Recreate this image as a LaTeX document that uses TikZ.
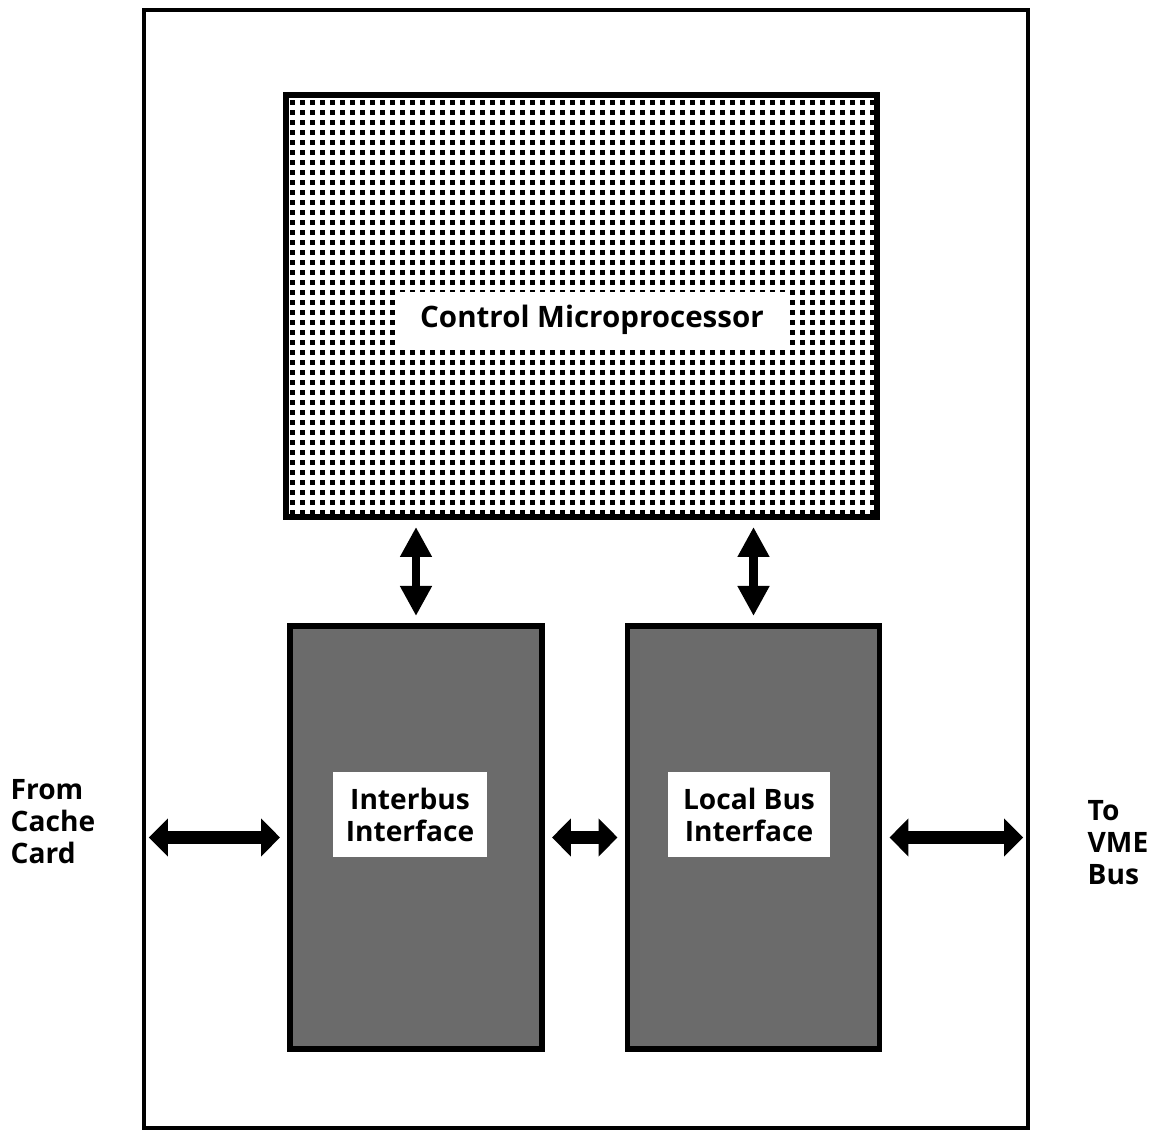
\documentclass[tikz,border=0pt]{standalone}
\usepackage{fontspec}
\setmainfont{Open Sans}
\usetikzlibrary{arrows.meta,patterns}

% square dot raster for the processor block
\pgfdeclarepatternformonly{squaredots}{\pgfqpoint{-0.5pt}{-0.5pt}}{\pgfqpoint{3.35pt}{3.35pt}}{\pgfqpoint{2.845pt}{2.845pt}}{%
  \pgfpathrectangle{\pgfpointorigin}{\pgfqpoint{1.35pt}{1.35pt}}\pgfusepath{fill}}

\tikzset{
  unit/.style={draw, line width=1.7pt, inner sep=0pt},
  boxtext/.style={fill=white, align=center, inner sep=0pt},
  vbus/.style={{Triangle[length=0.3cm,width=0.3cm]}-{Triangle[length=0.3cm,width=0.3cm]}, line width=0.085cm, shorten <=0.07cm, shorten >=0.07cm},
  hbus/.style={{Triangle[length=0.19cm,width=0.37cm]}-{Triangle[length=0.19cm,width=0.37cm]}, line width=0.13cm, shorten <=0.07cm, shorten >=0.07cm}
}

\begin{document}
\begin{tikzpicture}[font=\bfseries\fontsize{8}{9.1}\selectfont]
                    \useasboundingbox (0,0) rectangle (11.63,11.35);

                    \node[draw, line width=1.2pt, minimum width=8.84cm, minimum height=11.18cm] (board) at (5.86,5.66) {};

                    \node[unit, pattern=squaredots, minimum width=5.91cm, minimum height=4.22cm] (ctrl) at (5.815,8.29) {};
                    \node[unit, fill=black!58, minimum width=2.52cm, minimum height=4.23cm] (inter) at (4.16,2.975) {};
                    \node[unit, fill=black!58, minimum width=2.52cm, minimum height=4.23cm] (local) at (7.535,2.975) {};

                    \node[boxtext, font=\bfseries\fontsize{8.4}{9.1}\selectfont, minimum width=3.85cm, minimum height=0.55cm] (ctrltext) at (5.92,8.15) {Control Microprocessor};
                    \node[boxtext, minimum width=1.54cm, minimum height=0.85cm] (intertext) at (4.10,3.20) {Interbus\\Interface};
                    \node[boxtext, minimum width=1.62cm, minimum height=0.85cm] (localtext) at (7.49,3.205) {Local Bus\\Interface};

                    \node[anchor=west, align=left, inner sep=0pt] (from) at (0.10,3.13) {From\\Cache\\Card};
                    \node[anchor=west, align=left, inner sep=0pt] (to) at (10.87,2.92) {To\\VME\\Bus};

                    \draw[vbus] (ctrl.south -| inter.north) -- (inter.north);
                    \draw[vbus] (ctrl.south -| local.north) -- (local.north);
                    \draw[hbus] (inter.west -| board.west) -- (inter.west);
                    \draw[hbus] (inter.east) -- (local.west);
                    \draw[hbus] (local.east) -- (local.east -| board.east);
                \end{tikzpicture}
\end{document}
